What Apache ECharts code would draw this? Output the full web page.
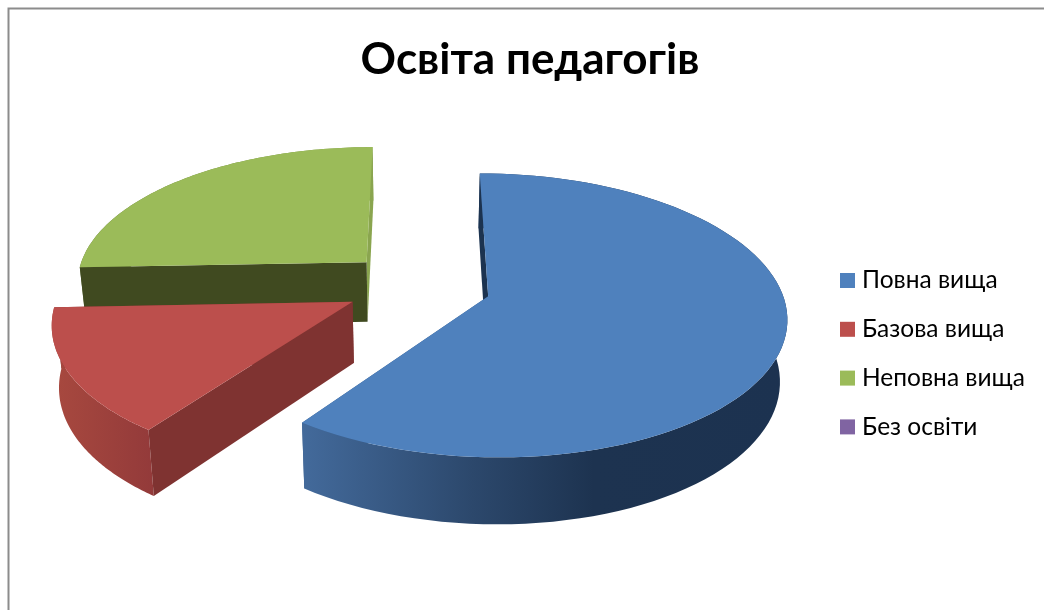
<!DOCTYPE html>
<html>
<head>
<meta charset="utf-8">
<style>
  html, body { margin: 0; padding: 0; background: #fff; }
  #chart { width: 1044px; height: 610px; }
</style>
<script src="https://cdn.jsdelivr.net/npm/echarts@6/dist/echarts.min.js"></script>
</head>
<body>
<div id="chart"></div>
<script>
const titleText = 'Освіта педагогів';
const categories = ['Повна вища', 'Базова вища', 'Неповна вища', 'Без освіти'];
const shares = [60, 14.4, 25.6, 0];

const topColors = ['#4f81bd', '#bc4f4c', '#9bbb59', '#8064a2'];
// outer wall shading, left to right
const wallColors = [
  [[0, '#436a9b'], [0.35, '#2c486c'], [0.6, '#1d3350'], [1, '#1c3250']],
  [[0, '#a8493f'], [1, '#933a3a']],
  [[0, '#5c7034'], [1, '#8aa54f']],
  [[0, '#4d3c62'], [1, '#4d3c62']]
];
const startWallColors = ['#1c3350', '#7f3331', '#404a20', '#4d3c62'];
const endWallColors = ['#3a5f8c', '#7f3331', '#8aa54f', '#4d3c62'];

// pie projection settings
const CX = 418, CY = 285.5, RX = 292, RY = 136.5, PERSP = 0.134, EXPLODE = 0.25;
const total = shares.reduce((a, b) => a + b, 0);

// flat disc coords -> screen, depth 0 is the top face, 1 the bottom face
function project(u, v, depth) {
  const w = 1 - PERSP * v;
  const x = CX + RX * u / w;
  const y = CY + RY * v / w;
  if (!depth) return [x, y];
  return [415 + (x - 415) * 0.98, y + 60.5 + 6 * v];
}

function sliceShapes(index) {
  const start = shares.slice(0, index).reduce((a, b) => a + b, 0) / total * Math.PI * 2;
  const end = start + shares[index] / total * Math.PI * 2;
  const mid = (start + end) / 2;
  const ou = EXPLODE * Math.sin(mid), ov = -EXPLODE * Math.cos(mid);
  const topArc = [], bottomArc = [];
  for (let i = 0; i <= 90; i++) {
    const a = start + (end - start) * i / 90;
    const u = ou + Math.sin(a), v = ov - Math.cos(a);
    topArc.push(project(u, v, 0));
    bottomArc.push(project(u, v, 1));
  }
  const apexTop = project(ou, ov, 0), apexBottom = project(ou, ov, 1);
  const xs = topArc.concat(bottomArc).map(p => p[0]);
  const fill = {
    type: 'linear', global: true,
    x: Math.min.apply(null, xs), y: 0, x2: Math.max.apply(null, xs), y2: 0,
    colorStops: wallColors[index].map(s => ({ offset: s[0], color: s[1] }))
  };
  const base = Math.round(ov * 100) * 10;
  const poly = (points, color, z) => ({
    type: 'polygon', z2: base + z, shape: { points: points }, style: { fill: color }
  });
  return [
    poly([apexTop, topArc[90], bottomArc[90], apexBottom], endWallColors[index], 0),
    poly(topArc.concat(bottomArc.slice().reverse()), fill, 1),
    poly([apexTop, topArc[0], bottomArc[0], apexBottom], startWallColors[index], 2),
    poly([apexTop].concat(topArc), topColors[index], 3)
  ];
}

const chart = echarts.init(document.getElementById('chart'), null, { renderer: 'canvas' });

chart.setOption({
  animation: false,
  title: {
    text: titleText,
    left: 530,
    top: 38,
    padding: 0,
    textAlign: 'center',
    textStyle: { fontFamily: 'Lato', fontWeight: 'bold', fontSize: 44, color: '#000' }
  },
  legend: {
    data: categories,
    orient: 'vertical',
    left: 840,
    top: 268,
    padding: 0,
    icon: 'rect',
    itemWidth: 15,
    itemHeight: 15,
    itemGap: 23.8,
    selectedMode: false,
    textStyle: { fontFamily: 'Lato', fontSize: 24.5, color: '#000', lineHeight: 23, padding: [0, 0, 0, 2] }
  },
  graphic: [{
    type: 'rect',
    silent: true,
    shape: { x: 8.5, y: 8.5, width: 1100, height: 700 },
    style: { fill: 'none', stroke: '#8c8c8c', lineWidth: 2 }
  }],
  series: categories.map((name, i) => ({
    name: name,
    type: 'custom',
    coordinateSystem: 'none',
    itemStyle: { color: topColors[i] },
    data: [[shares[i]]],
    renderItem: function (params, api) {
      if (!api.value(0)) return { type: 'group', children: [] };
      return { type: 'group', children: sliceShapes(i) };
    }
  }))
});
</script>
</body>
</html>
